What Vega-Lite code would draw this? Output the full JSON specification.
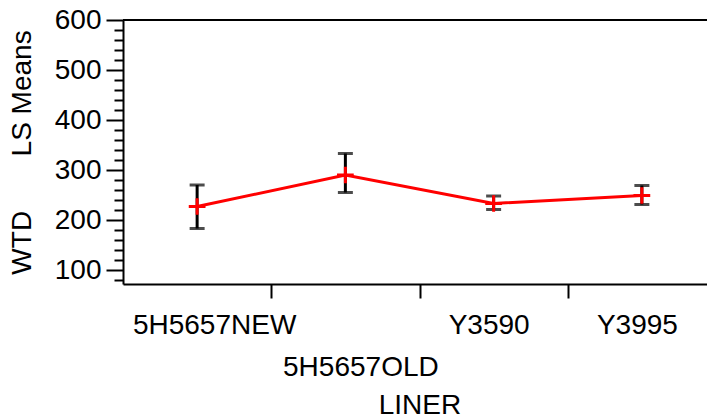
{
  "$schema": "https://vega.github.io/schema/vega-lite/v6.json",
  "width": 584,
  "height": 264,
  "autosize": "none",
  "padding": {"left": 123, "top": 20, "right": 0, "bottom": 135},
  "background": "white",
  "config": {
    "font": "Liberation Sans",
    "view": {"stroke": null},
    "axis": {
      "domainColor": "black", "tickColor": "black", "labelColor": "black", "titleColor": "black",
      "domainWidth": 2, "tickWidth": 2, "grid": false,
      "labelFont": "Liberation Sans", "titleFont": "Liberation Sans", "titleFontWeight": "normal",
      "labelFontSize": 28, "titleFontSize": 28
    }
  },
  "data": {"values": [
    {"liner": "5H5657NEW", "mean": 227, "lower": 183, "upper": 270},
    {"liner": "5H5657OLD", "mean": 290, "lower": 255, "upper": 333},
    {"liner": "Y3590", "mean": 233, "lower": 221, "upper": 248},
    {"liner": "Y3995", "mean": 249, "lower": 231, "upper": 269}
  ]},
  "resolve": {"axis": {"y": "independent"}},
  "layer": [
    {
      "mark": {"type": "rule", "color": "black", "strokeWidth": 2},
      "encoding": {
        "y": {"datum": 600, "type": "quantitative", "scale": {"domain": [72, 600], "nice": false, "zero": false},
          "axis": {"orient": "left", "values": [80,120,140,160,180,220,240,260,280,320,340,360,380,420,440,460,480,520,540,560,580],
            "tickSize": 9, "labels": false, "domain": false, "title": null}}
      }
    },
    {
      "mark": {"type": "rule", "color": "black", "strokeWidth": 3},
      "encoding": {
        "x": {"field": "liner", "type": "nominal", "sort": null,
          "scale": {"range": [0, 593], "paddingInner": 0, "paddingOuter": 0},
          "axis": {
            "tickBand": "extent", "tickSize": 14, "labelPadding": 13, "labelAngle": 0,
            "tickOpacity": {"condition": {"test": "datum.index < 0 || datum.extra", "value": 0}, "value": 1},
            "labelBaseline": "top", "labelLineHeight": 42, "labelOverlap": false, "labelLimit": 0, "labelFlush": false,
            "labelExpr": "datum.value == '5H5657OLD' ? ['', datum.label] : datum.label",
            "labelOffset": {"condition": [
              {"test": "datum.value == '5H5657NEW'", "value": 17},
              {"test": "datum.value == '5H5657OLD'", "value": 15}
            ], "value": -5},
            "title": "LINER", "titlePadding": 10
          }},
        "y": {"field": "lower", "type": "quantitative",
          "axis": {"orient": "left", "values": [100, 200, 300, 400, 500, 600], "tickSize": 17, "labelPadding": 5,
            "title": "WTD\u00a0\u00a0\u00a0\u00a0\u00a0\u00a0\u00a0LS Means", "titlePadding": 18}},
        "y2": {"field": "upper"}
      }
    },
    {
      "mark": {"type": "tick", "color": "black", "size": 15, "thickness": 3},
      "encoding": {
        "x": {"field": "liner", "type": "nominal", "sort": null},
        "y": {"field": "lower", "type": "quantitative", "axis": null}
      }
    },
    {
      "mark": {"type": "tick", "color": "black", "size": 15, "thickness": 3},
      "encoding": {
        "x": {"field": "liner", "type": "nominal", "sort": null},
        "y": {"field": "upper", "type": "quantitative", "axis": null}
      }
    },
    {
      "mark": {"type": "line", "color": "#ff0000", "strokeWidth": 3},
      "encoding": {
        "x": {"field": "liner", "type": "nominal", "sort": null},
        "y": {"field": "mean", "type": "quantitative", "axis": null}
      }
    },
    {
      "mark": {"type": "point", "shape": "M-1,0L1,0M0,-1L0,1", "filled": false, "color": "#ff0000", "strokeWidth": 3, "size": 280, "opacity": 1},
      "encoding": {
        "x": {"field": "liner", "type": "nominal", "sort": null},
        "y": {"field": "mean", "type": "quantitative", "axis": null}
      }
    }
  ]
}
